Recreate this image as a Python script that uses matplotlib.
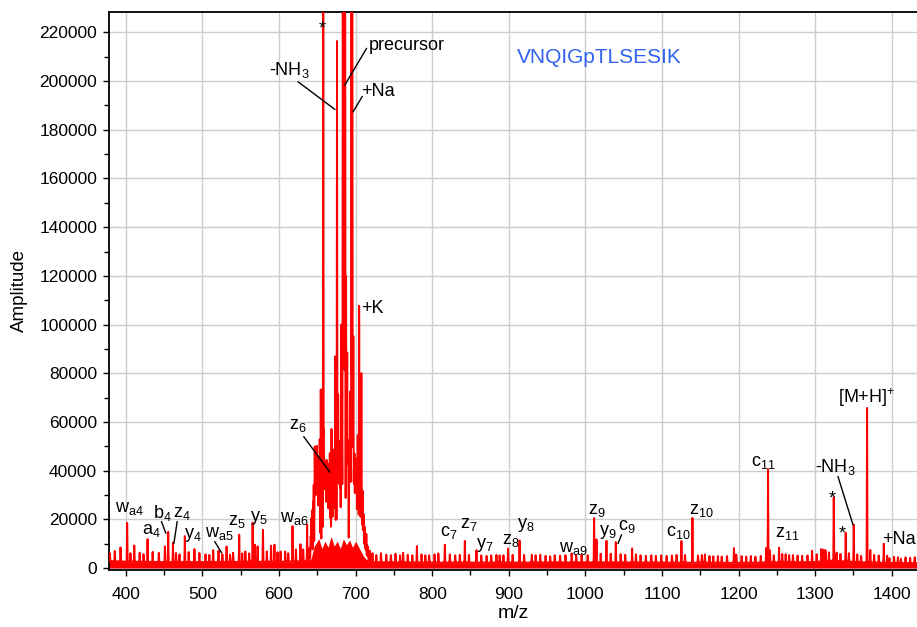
import numpy as np
import matplotlib
matplotlib.use('Agg')
import matplotlib.pyplot as plt
from matplotlib.ticker import MultipleLocator

plt.rcParams['font.family'] = ['Liberation Sans', 'DejaVu Sans']
plt.rcParams['mathtext.fontset'] = 'custom'
plt.rcParams['mathtext.rm'] = 'Liberation Sans'
plt.rcParams['mathtext.it'] = 'Liberation Sans:italic'
plt.rcParams['mathtext.bf'] = 'Liberation Sans:bold'

# ---------------- data ----------------
# noise-floor envelope of the spectrum
floor_mz = [375, 400, 450, 500, 560, 600, 638, 642, 646, 652, 656, 660, 664, 668, 672, 676,
            680, 684, 688, 692, 696, 700, 705, 710, 714, 718, 725,
            800, 900, 1000, 1100, 1200, 1300, 1320, 1360, 1400, 1435]
floor_amp = [2800, 2600, 2400, 2400, 2500, 2500, 2700, 4000, 9000, 12000, 8000, 11000, 8500,
             13000, 9000, 11000, 8000, 12000, 9500, 11500, 8500, 11000, 8000, 5000, 3500, 3000,
             2300, 2200, 2200, 2300, 2200, 2100, 2400, 3000, 2300, 2000, 2000]

# peaks (m/z, amplitude); off-scale peaks are given a value above the axis top
peak_mz = [
    379, 385.5, 393, 401.7, 406, 411, 418, 423, 428.3, 435, 443, 451, 455.3, 461.5, 465.5, 470,
    477, 482, 489.5, 496, 504, 509, 514, 521, 526, 531.5, 536, 540, 548, 552, 556, 561, 565.5,
    568.4, 572, 579, 584, 589.6, 594, 598, 602, 608, 612, 617.6, 622, 628, 631.5, 636.7, 640,
    641.3, 642.0, 642.5, 643.2, 644.5, 645.3, 646.6, 647.3, 648.0, 648.6, 649.3, 650.0, 650.7,
    651.5, 652.2, 653.0, 653.3, 654.5, 655.8, 656.5, 657.7, 658.5, 659.2, 659.8, 660.5, 661.2,
    662.0, 662.7, 663.3, 664.0, 664.8, 665.5, 666.3, 667.3, 668.5, 669.3, 670.3, 671.0, 671.8,
    672.6, 673.4, 674.5, 675.7, 676.5, 677.2, 677.9, 678.6, 679.3, 680.0, 680.8, 681.5, 682.3,
    683.3, 684.3, 685.3, 686.3, 687.5, 688.3, 689.0, 689.7, 690.3, 691.7, 692.4, 693.0, 693.8,
    694.6, 695.6, 696.3, 697.0, 697.8, 698.5, 699.2, 699.8, 700.5, 701.2, 702.0, 702.8, 703.6,
    704.6, 705.3, 706.0, 706.8, 707.5, 708.2, 709.0, 709.8, 710.5, 711.4, 712.2, 713.1, 714.0,
    715.0, 716.0, 718.5,
    722, 727, 733, 740, 746, 752, 758, 762, 768, 774, 780, 786, 791, 796, 803, 808, 816.5, 823,
    830, 836, 842.6, 848, 857.8, 864, 871, 877, 883.8, 888, 893, 899, 905, 914, 920, 930, 935,
    941, 948, 954, 960, 967, 974, 982, 988, 995, 1003, 1011.4, 1014.5, 1020, 1027.5, 1033,
    1039.7, 1046, 1052, 1061, 1066, 1072, 1079, 1086, 1092, 1099, 1106, 1113, 1119, 1125.4,
    1130, 1139.8, 1147, 1152, 1156, 1162, 1167, 1173, 1178, 1185, 1194, 1197, 1204, 1210, 1216,
    1222, 1229, 1236, 1238.5, 1241, 1246, 1252.9, 1257, 1261.5, 1266, 1271, 1277, 1283, 1290,
    1296, 1302, 1308, 1311, 1313.5, 1318, 1324.3, 1328, 1333, 1339.9, 1344, 1350.4, 1355, 1360,
    1367.8, 1372, 1377, 1383, 1389.6, 1394, 1397, 1403, 1408, 1412, 1418, 1424, 1430]
peak_amp = [
    3300, 4300, 5800, 16000, 3500, 6700, 3800, 3200, 9400, 4200, 3800, 6500, 12500, 8100, 3800, 3200,
    10700, 4200, 5400, 3800, 3200, 3000, 4900, 4700, 3200, 6400, 3000, 3800, 11200, 3500, 4300, 3500, 16200,
    7100, 6400, 13200, 4300, 6700, 7100, 4000, 4300, 4200, 3500, 14600, 5000, 7100, 5000, 15200, 5000,
    9000, 14000, 12000, 18000, 20000, 26000, 40000, 30000, 24000, 22000, 38500, 33000, 27000,
    24000, 30000, 28000, 22000, 64000, 36000, 30000, 219500, 45000, 30000, 26000, 31500, 28000,
    34000, 25000, 32000, 30000, 26000, 22000, 36000, 30000, 44500, 35000, 37500, 26000, 28000,
    33000, 77000, 40000, 206000, 35000, 60000, 28000, 42000, 30000, 36000, 25000, 90000, 40000,
    260000, 260000, 260000, 260000, 110000, 45000, 77000, 30000, 40000, 37500, 28000, 60000, 35000,
    260000, 260000, 40000, 85000, 30000, 36000, 22000, 28000, 25000, 34000, 20000, 45000, 28000,
    99000, 24000, 32000, 20000, 73000, 18000, 26000, 14000, 17000, 11000, 12500, 8000, 10500,
    6000, 5500, 4200,
    3500, 3000, 3800, 3200, 3000, 3600, 3000, 4000, 3200, 3000, 6800, 3400, 3000, 3000, 3400, 3800, 7400, 3400,
    3000, 3200, 8900, 3200, 5100, 3000, 2800, 3000, 3200, 3000, 3000, 5800, 3200, 9100, 3200, 3200, 3000,
    3200, 2800, 2600, 3000, 2800, 3000, 3700, 3000, 3300, 3000, 18200, 9500, 3600, 8900, 3600,
    8400, 3400, 3200, 5800, 3400, 3000, 2800, 3000, 2800, 3000, 2800, 3000, 3200, 8900,
    3200, 18400, 3000, 3200, 3400, 2800, 2700, 2800, 2600, 2800, 6100, 3400, 2800, 2600, 2800,
    2500, 2800, 6000, 38500, 5000, 3000, 6100, 3500, 3400, 3000, 3000, 2800, 2700, 2800,
    4700, 3200, 5200, 4800, 4500, 3500, 26200, 3500, 3000, 11900, 3500, 15300, 3200, 2700,
    63500, 5200, 3200, 3000, 7900, 3000, 2000, 2600, 2400, 1800, 2400, 2200, 2400]

# annotation labels: (text, m/z, amplitude)
labels = [
    (r'w$_{\mathrm{a4}}$', 405.2, 24400),
    (r'a$_{4}$', 433.5, 15300),
    (r'b$_{4}$', 447.9, 22500),
    (r'z$_{4}$', 473.5, 22500),
    (r'y$_{4}$', 487.9, 13600),
    (r'w$_{\mathrm{a5}}$', 522.0, 14000),
    (r'z$_{5}$', 545.0, 19300),
    (r'y$_{5}$', 573.9, 20400),
    (r'w$_{\mathrm{a6}}$', 619.6, 20200),
    (r'z$_{6}$', 624.5, 58700),
    (r'-NH$_{3}$', 614.1, 204500),
    ('precursor', 766.4, 214600),
    ('+Na', 729.0, 195700),
    ('*', 656.5, 221500),
    ('+K', 722.5, 106800),
    (r'c$_{7}$', 821.0, 14400),
    (r'z$_{7}$', 848.4, 17900),
    (r'y$_{7}$', 868.0, 9400),
    (r'z$_{8}$', 902.0, 11300),
    (r'y$_{8}$', 922.0, 17700),
    (r'w$_{\mathrm{a9}}$', 984.0, 8200),
    (r'z$_{9}$', 1014.5, 23800),
    (r'y$_{9}$', 1029.6, 14800),
    (r'c$_{9}$', 1054.7, 17000),
    (r'c$_{10}$', 1121.0, 14400),
    (r'z$_{10}$', 1151.5, 23800),
    (r'c$_{11}$', 1232.9, 43300),
    (r'z$_{11}$', 1263.5, 14200),
    ('*', 1321.7, 28300),
    ('*', 1336.0, 14000),
    (r'-NH$_{3}$', 1326.9, 41500),
    (r'[M+H]$^{+}$', 1367.0, 70000),
    ('+Na', 1409.4, 11700),
]

# leader lines: (mz1, amp1, mz2, amp2)
leaders = [
    (446.6, 19000, 452.2, 14300),
    (467.0, 19000, 462.7, 10100),
    (516.2, 10800, 524.9, 6300),
    (632.4, 53900, 666.3, 39400),
    (625.0, 199700, 672.8, 188400),
    (714.2, 213400, 685.9, 198400),
    (708.5, 193600, 696.7, 187400),
    (1042.7, 10100, 1047.1, 13600),
    (1329.9, 37500, 1349.5, 17700),
]

title_text = 'VNQIGpTLSESIK'
title_pos = (1018.8, 209900)

# ---------------- build trace ----------------
x = np.arange(375.0, 1440.0, 0.04)
floor = np.interp(x, floor_mz, floor_amp)
trace = floor.copy()
sig = 0.25
for m, a in zip(peak_mz, peak_amp):
    sel = np.abs(x - m) < 2.0
    trace[sel] += a * np.exp(-0.5 * ((x[sel] - m) / sig) ** 2)

# ---------------- figure ----------------
fig = plt.figure(figsize=(9.17, 6.27), dpi=100)
ax = fig.add_axes([109 / 917, 1 - 570 / 627, 1 - 109 / 917, (570 - 11.5) / 627])

ax.fill_between(x, 0, floor, color='#ff0000', lw=0, zorder=2)
ax.plot(x, trace, color='#ff0000', lw=1.4, zorder=3)

ax.set_xlim(378, 1433)
ax.set_ylim(-820, 228600)

ax.xaxis.set_major_locator(MultipleLocator(100))
ax.xaxis.set_minor_locator(MultipleLocator(50))
ax.yaxis.set_major_locator(MultipleLocator(20000))
ax.yaxis.set_minor_locator(MultipleLocator(10000))
ax.grid(True, which='major', color='#cdcdcd', lw=1.0, zorder=0)
ax.set_axisbelow(True)

ax.tick_params(which='major', direction='out', length=4.5, width=1.0, labelsize=12.5,
               colors='black')
ax.tick_params(which='minor', direction='out', length=3.5, width=1.0)
ax.tick_params(axis='y', pad=4)
ax.tick_params(axis='x', pad=8)

for s in ['left', 'bottom', 'top']:
    ax.spines[s].set_linewidth(1.3)
    ax.spines[s].set_color('black')
ax.spines['right'].set_visible(False)

ax.set_xlabel('m/z', fontsize=14, labelpad=2)
ax.set_ylabel('Amplitude', fontsize=13.5, labelpad=8)

for txt, m, a in labels:
    ax.text(m, a, txt, fontsize=13, ha='center', va='center', color='black', zorder=5)

for m1, a1, m2, a2 in leaders:
    ax.plot([m1, m2], [a1, a2], color='black', lw=1.0, zorder=5)

ax.text(title_pos[0], title_pos[1], title_text, fontsize=15, color='#2f62f0',
        ha='center', va='center', zorder=5)

fig.savefig('out.png', dpi=100)
